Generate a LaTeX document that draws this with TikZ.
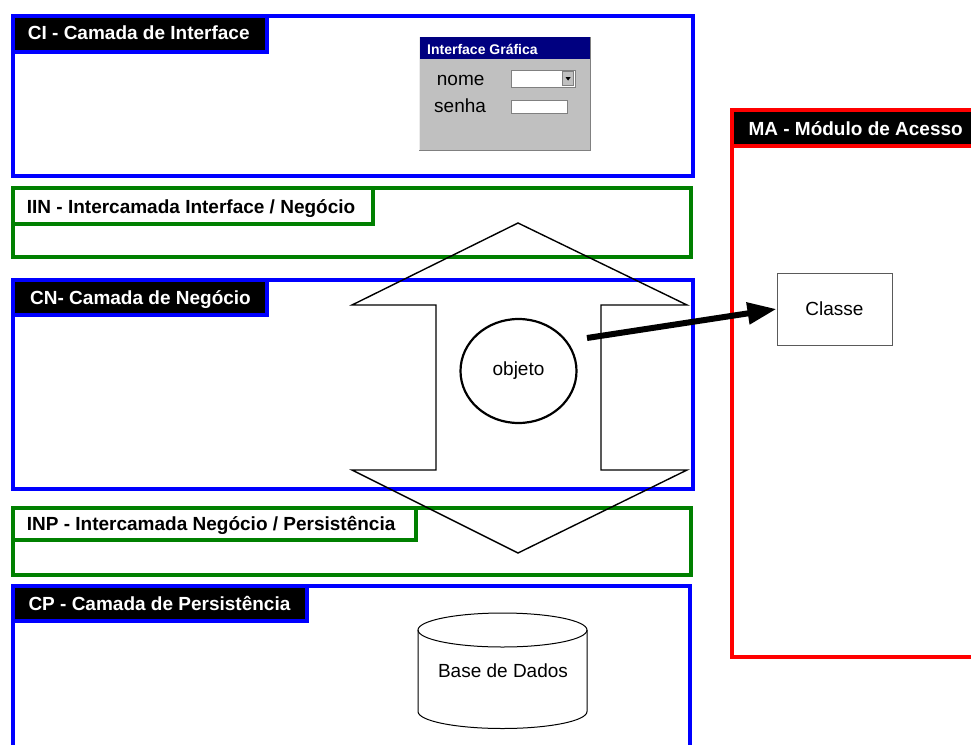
\documentclass[tikz,border=0pt]{standalone}
\usepackage{fontspec}
\setmainfont{Liberation Sans}
\usetikzlibrary{arrows.meta,shapes.geometric}
\definecolor{lyblue}{HTML}{0000FF}
\definecolor{lygreen}{HTML}{008000}
\definecolor{lyred}{HTML}{FF0000}
\definecolor{wingray}{HTML}{C0C0C0}
\definecolor{winnavy}{HTML}{000080}
\definecolor{edgegray}{HTML}{808080}
\tikzset{
  frame/.style={rectangle, line width=4pt, inner sep=0pt, outer sep=0pt, anchor=north west},
  darktab/.style={frame, fill=black},
  lighttab/.style={frame, fill=white},
  tablabel/.style={inner sep=0pt, anchor=base west, font=\bfseries\fontsize{19}{22}\selectfont},
  plain/.style={inner sep=0pt, font=\fontsize{19}{22}\selectfont},
  flat/.style={rectangle, inner sep=0pt, outer sep=0pt, anchor=north west},
}
\begin{document}
\begin{tikzpicture}[x=1pt, y=-1pt]
\useasboundingbox (0,0) rectangle (971,744);
\clip (0,0) rectangle (971,744);

% ---- layers ----
\node[frame, draw=lyblue, minimum width=679.5pt, minimum height=160.5pt] (ci) at (13,15.5) {};
\node[darktab, draw=lyblue, minimum width=254pt, minimum height=36pt] (ciTab) at (13,15.5) {};
\node[tablabel, text=white] (ciLbl) at (27.7,39.3) {CI - Camada de Interface};

\node[frame, draw=lygreen, minimum width=678.5pt, minimum height=69pt] (iin) at (12.5,188) {};
\node[lighttab, draw=lygreen, minimum width=360.5pt, minimum height=36pt] (iinTab) at (12.5,188) {};
\node[tablabel, text=black] (iinLbl) at (26.7,213.3) {IIN - Intercamada Interface / Negócio};

\node[frame, draw=lyblue, minimum width=680pt, minimum height=209pt] (cn) at (13,280) {};
\node[darktab, draw=lyblue, minimum width=254pt, minimum height=34.5pt] (cnTab) at (13,280) {};
\node[tablabel, text=white] (cnLbl) at (30,304.3) {CN- Camada de Negócio};

\node[frame, draw=lygreen, minimum width=678pt, minimum height=67pt] (inp) at (12.5,507.5) {};
\node[lighttab, draw=lygreen, minimum width=403.5pt, minimum height=32.5pt] (inpTab) at (12.5,507.5) {};
\node[tablabel, text=black] (inpLbl) at (26.7,530) {INP - Intercamada Negócio / Persistência};

\node[frame, draw=lyblue, minimum width=677pt, minimum height=180pt] (cp) at (13,586) {};
\node[darktab, draw=lyblue, minimum width=294pt, minimum height=35pt] (cpTab) at (13,586) {};
\node[tablabel, text=white] (cpLbl) at (28.3,610) {CP - Camada de Persistência};

\node[frame, draw=lyred, minimum width=260pt, minimum height=546.5pt] (ma) at (731.5,110) {};
\node[darktab, draw=lyred, minimum width=260pt, minimum height=35.5pt] (maTab) at (731.5,110) {};
\node[tablabel, text=white] (maLbl) at (748.3,135) {MA - Módulo de Acesso};

% ---- login window ----
\node[flat, fill=wingray, minimum width=171pt, minimum height=113pt] (win) at (419,37) {};
\node[flat, fill=winnavy, minimum width=171pt, minimum height=22pt] (winBar) at (419,37) {};
\draw[edgegray, line width=1pt] (win.north east) -- (win.south east) -- (win.south west);
\draw[white!85!gray, line width=0.8pt] (win.south west) -- (win.north west);
\node[inner sep=0pt, anchor=base west, text=white, font=\bfseries\fontsize{14}{16}\selectfont] (winTitle) at (427,54) {Interface Gráfica};
\node[plain, anchor=base west] (nomeLbl) at (436.7,85) {nome};
\node[plain, anchor=base west] (senhaLbl) at (434,112.7) {senha};
\node[flat, fill=white, draw=edgegray, line width=0.8pt, minimum width=64pt, minimum height=17pt] (combo) at (511.7,70) {};
\node[flat, fill=wingray, draw=edgegray, line width=0.6pt, minimum width=11.5pt, minimum height=14pt] (comboBtn) at (562.2,71.5) {};
\fill (565.6,77.2) -- (570.6,77.2) -- (568.1,80.6) -- cycle;
\node[flat, fill=white, draw=edgegray, line width=0.8pt, minimum width=56pt, minimum height=12.6pt] (passBox) at (511.7,100.7) {};

% ---- double-headed block arrow ----
\draw[line width=1.4pt, line join=miter] (518,223) -- (687,305) -- (601,305) -- (601,470)
  -- (687,470) -- (518,553) -- (352,470) -- (436,470) -- (436,305) -- (352,305) -- cycle;

% ---- object and class ----
\node[ellipse, draw, line width=2.2pt, fill=white, minimum width=116pt, minimum height=104pt, inner sep=0pt, plain] (obj) at (518.5,371) {objeto};
\node[rectangle, draw=edgegray!70!black, line width=1pt, fill=white, minimum width=115pt, minimum height=72pt, plain] (cls) at (834.5,309) {Classe};
\coordinate (objOut) at (587,338);
\draw[line width=6pt, -{Triangle[length=29pt, width=21pt]}] (objOut) -- (cls.west);

% ---- database cylinder ----
\node[plain] (db) at (503,671) {Base de Dados};
\draw[line width=1pt] (418,630) -- (418,711.5)
  arc[start angle=180, end angle=0, x radius=84.5, y radius=17] -- (587,630);
\draw[line width=1pt] (502.5,630) ellipse [x radius=84.5, y radius=17];
\end{tikzpicture}
\end{document}
